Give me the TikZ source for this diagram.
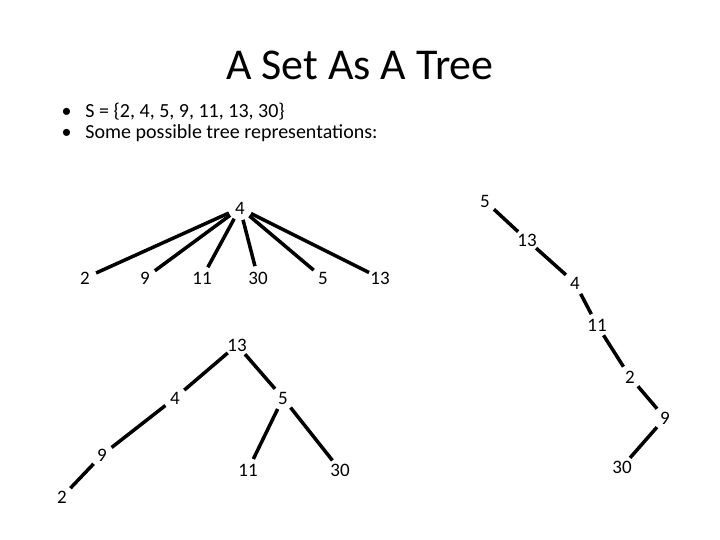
\documentclass[tikz,border=0pt]{standalone}
\usepackage{fontspec}
\setmainfont{Carlito}
\begin{document}
\begin{tikzpicture}[x=1pt,y=-1pt,
  n/.style={circle,minimum size=24pt,inner sep=0pt,font=\fontsize{19}{19}\selectfont},
  e/.style={line width=3.5pt}]
\useasboundingbox (0,0) rectangle (720,540);
\node[font=\fontsize{44}{44}\selectfont] (title) at (360,65) {A Set As A Tree};
\node[anchor=west,font=\fontsize{20}{20}\selectfont] (b1) at (58,112) {\textbullet\hspace{14pt}S = \{2, 4, 5, 9, 11, 13, 30\}};
\node[anchor=west,font=\fontsize{20}{20}\selectfont] (b2) at (58,133) {\textbullet\hspace{14pt}Some possible tree representations:};
% tree 1
\node[n] (a4) at (240,208) {4};
\node[n] (a2) at (85,278) {2};
\node[n] (a9) at (145,278) {9};
\node[n] (a11) at (202,278) {11};
\node[n] (a30) at (258,278) {30};
\node[n] (a5) at (323,278) {5};
\node[n] (a13) at (380,278) {13};
\foreach \c in {a2,a9,a11,a30,a5,a13} \draw[e] (a4) -- (\c);
% tree 2
\node[n] (b5) at (485,201) {5};
\node[n] (b13) at (527,240) {13};
\node[n] (b4) at (575,283) {4};
\node[n] (b11) at (597,325) {11};
\node[n] (b2n) at (630,377) {2};
\node[n] (b9) at (665,418) {9};
\node[n] (b30) at (622,467) {30};
\draw[e] (b5)--(b13); \draw[e] (b13)--(b4); \draw[e] (b4)--(b11);
\draw[e] (b11)--(b2n); \draw[e] (b2n)--(b9); \draw[e] (b9)--(b30);
% tree 3
\node[n] (c13) at (237,345) {13};
\node[n] (c4) at (175,398) {4};
\node[n] (c5) at (283,398) {5};
\node[n] (c9) at (102,455) {9};
\node[n] (c2) at (62,497) {2};
\node[n] (c11) at (248,470) {11};
\node[n] (c30) at (340,470) {30};
\draw[e] (c13)--(c4); \draw[e] (c13)--(c5); \draw[e] (c4)--(c9);
\draw[e] (c9)--(c2); \draw[e] (c5)--(c11); \draw[e] (c5)--(c30);
\end{tikzpicture}
\end{document}
